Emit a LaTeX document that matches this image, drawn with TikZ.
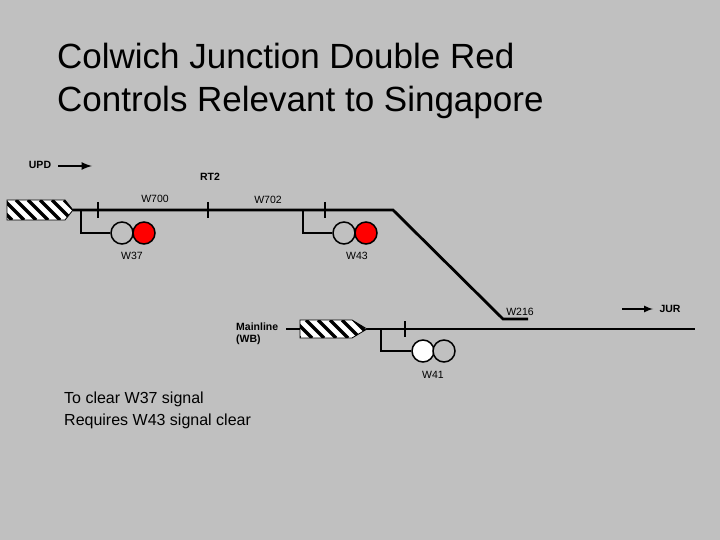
\documentclass[tikz,border=0pt]{standalone}
\usepackage{fontspec}
\setmainfont{Liberation Sans}
\definecolor{bg}{HTML}{C0C0C0}
\begin{document}
\begin{tikzpicture}[x=1pt,y=-1pt,
  trk/.style={line width=2.8pt},
  tick/.style={line width=2pt},
  lbl/.style={font=\fontsize{10.5}{12}\selectfont, inner sep=0},
  blbl/.style={font=\fontsize{10.5}{12}\selectfont\bfseries, inner sep=0},
  lamp/.style={circle, draw, line width=1.5pt, minimum size=22pt, inner sep=0}]
\fill[bg] (0,0) rectangle (720,540);
\useasboundingbox (0,0) rectangle (720,540);
\node[anchor=west, inner sep=0, font=\fontsize{35}{43}\selectfont, align=left] (title) at (57,81) {Colwich Junction Double Red\\Controls Relevant to Singapore};
% upper track
\coordinate (u0) at (73,210); \coordinate (u1) at (393,210);
\coordinate (d1) at (503,319); \coordinate (d2) at (528,319);
\draw[trk] (u0) -- (u1) -- (d1) -- (d2);
\fill[white] (7,200) -- (65,200) -- (73,210) -- (65,220) -- (7,220) -- cycle;
\begin{scope}
\clip (7,200) -- (65,200) -- (73,210) -- (65,220) -- (7,220) -- cycle;
\foreach \x in {-20,-8,...,80} \draw[line width=3.2pt] (\x,200) -- (\x+20,220);
\end{scope}
\draw[line width=0.8pt] (7,200) -- (65,200) -- (73,210) -- (65,220) -- (7,220) -- cycle;
\foreach \x in {98,208,325} \draw[tick] (\x,202) -- (\x,218);
% lower track
\coordinate (l0) at (286,329); \coordinate (l1) at (695,329);
\draw[trk] (l0) -- (l1);
\fill[white] (300,320) -- (352,320) -- (367,329) -- (352,338) -- (300,338) -- cycle;
\begin{scope}
\clip (300,320) -- (352,320) -- (367,329) -- (352,338) -- (300,338) -- cycle;
\foreach \x in {270,282,...,380} \draw[line width=3.2pt] (\x,320) -- (\x+18,338);
\end{scope}
\draw[line width=0.8pt] (300,320) -- (352,320) -- (367,329) -- (352,338) -- (300,338) -- cycle;
\draw[tick] (405,321) -- (405,337);
% signals
\node[lamp, fill=bg] (a1) at (122,233) {}; \node[lamp, fill=red] (a2) at (144,233) {};
\draw[trk] (81,210) -- (81,233) -- (a1.west);
\node[lamp, fill=bg] (b1) at (344,233) {}; \node[lamp, fill=red] (b2) at (366,233) {};
\draw[trk] (303,210) -- (303,233) -- (b1.west);
\node[lamp, fill=white] (c1) at (423,351) {}; \node[lamp, fill=bg] (c2) at (444,351) {};
\draw[trk] (381,329) -- (381,351) -- (c1.west);
% labels
\node[blbl] (upd) at (40,165) {UPD};
\draw[-latex, line width=2.5pt] (58,166) -- (92,166);
\node[blbl] (rt2) at (210,177) {RT2};
\node[lbl] (w700) at (155,199) {W700};
\node[lbl] (w702) at (268,200) {W702};
\node[lbl] (w37) at (132,256) {W37};
\node[lbl] (w43) at (357,256) {W43};
\node[lbl] (w216) at (520,312) {W216};
\node[blbl] (jur) at (670,309) {JUR};
\draw[-latex, line width=2pt] (622,309) -- (653,309);
\node[blbl, anchor=west, align=left] (ml) at (236,334) {Mainline\\(WB)};
\node[lbl] (w41) at (433,375) {W41};
\node[anchor=west, inner sep=0, font=\fontsize{16}{22}\selectfont, align=left] (note) at (64,410) {To clear W37 signal\\Requires W43 signal clear};
\end{tikzpicture}
\end{document}
